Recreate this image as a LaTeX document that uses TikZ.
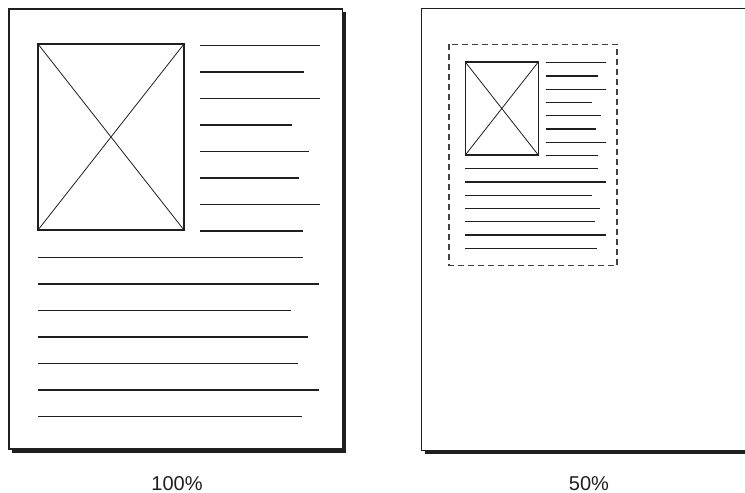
\documentclass[tikz,border=0pt]{standalone}
\usepackage{fontspec}
\setmainfont{Liberation Sans}
\usepackage{tikz}
\usetikzlibrary{positioning}
\colorlet{ink}{black!88}
\colorlet{paper}{white}
\tikzset{
  sheet/.style     ={draw=ink, fill=paper, line width=1.2pt},
  sheetshadow/.style={fill=ink},
  textline/.style  ={draw=ink, line width=1.1pt},
  photo/.style     ={draw=ink, line width=1.2pt},
  photocross/.style={draw=ink, line width=0.8pt},
  cropbox/.style   ={draw=ink!85, line width=1.2pt, dash pattern=on 6pt off 4pt},
  caption/.style   ={font=\fontsize{20}{24}\selectfont, text=ink, anchor=base,
                     inner sep=0pt},
  layout/.pic={
    % picture placeholder
    \draw[photo] (0,0) rectangle (146,186);
    \draw[photocross] (0,0) -- (146,186) (146,0) -- (0,186);
    % text beside the picture
    \foreach \xe [count=\i from 0] in {282,266,282,254,271,261,282,265}
      \draw[textline] (162,1.5+26.5*\i) -- (\xe,1.5+26.5*\i);
    % text below the picture
    \foreach \xe [count=\i from 1] in {265,281,253,270,260,281,264}
      \draw[textline] (0,187+26.5*\i) -- (\xe,187+26.5*\i);
  },
}

\begin{document}
\begin{tikzpicture}[x=1pt, y=-1pt]
\useasboundingbox (0,0) rectangle (745,493);
\begin{scope}
\clip (0,0) rectangle (745,493);

% full size page
\fill[sheetshadow] (12,12) rectangle (346,453);
\draw[sheet] (9,9) rectangle (342.5,449);
\pic at (38,44) {layout};

% half size page
\fill[sheetshadow] (424.7,11.3) rectangle (770,453.5);
\draw[sheet] (421.7,8.3) rectangle (767,450.5);
\draw[cropbox] (449,44.3) rectangle (617,265.7);
\pic[scale=0.5] at (465.3,62) {layout};
\end{scope}

\node[caption] (full) at (177,490) {100\%};
\node[caption] (half) at (589,490) {50\%};

\end{tikzpicture}
\end{document}
